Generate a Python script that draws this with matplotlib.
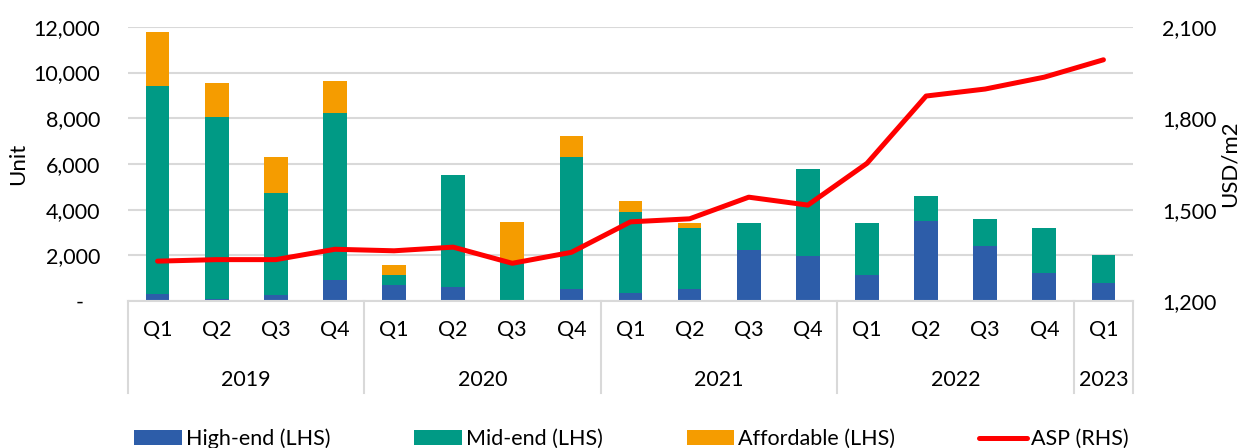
import numpy as np
import matplotlib
matplotlib.use("Agg")
import matplotlib.pyplot as plt
from matplotlib.ticker import FuncFormatter
import matplotlib.transforms as mtransforms

plt.rcParams['font.family'] = ['Lato', 'DejaVu Sans']

# ---- data ----
quarters = ["Q1", "Q2", "Q3", "Q4"] * 4 + ["Q1"]
years = ["2019", "2020", "2021", "2022", "2023"]
year_sizes = [4, 4, 4, 4, 1]

high_end = [300, 100, 250, 930, 720, 600, 0, 510, 370, 540, 2220, 1960, 1120, 3490, 2390, 1240, 800]
mid_end = [9130, 7950, 4470, 7290, 410, 4920, 1750, 5810, 3530, 2670, 1180, 3820, 2310, 1120, 1200, 1970, 1230]
affordable = [2340, 1490, 1590, 1415, 450, 0, 1710, 910, 480, 190, 0, 0, 0, 0, 0, 0, 0]
asp = [1331, 1336, 1336, 1370, 1365, 1377, 1324, 1360, 1460, 1470, 1541, 1515, 1652, 1873, 1896, 1935, 1992]

C_HIGH = "#2D5DA9"
C_MID = "#009A85"
C_AFF = "#F59C00"
C_ASP = "#FF0000"
GRID = "#D9D9D9"
FS = 15.5

fig = plt.figure(figsize=(12.43, 4.48), dpi=100)
ax = fig.add_axes([0.103, 0.328, 0.8085, 0.612])

x = np.arange(len(quarters))
he = np.array(high_end)
me = np.array(mid_end)
af = np.array(affordable)

b1 = ax.bar(x, he, width=0.4, color=C_HIGH, zorder=2)
b2 = ax.bar(x, me, width=0.4, bottom=he, color=C_MID, zorder=2)
b3 = ax.bar(x, af, width=0.4, bottom=he + me, color=C_AFF, zorder=2)

ax.set_xlim(-0.5, len(quarters) - 0.5)
ax.set_ylim(0, 12000)
ax.set_yticks(np.arange(0, 12001, 2000))
ax.yaxis.set_major_formatter(FuncFormatter(lambda v, p: "-   " if v == 0 else f"{v:,.0f}"))
ax.grid(axis="y", color=GRID, lw=1.5, zorder=0)
ax.tick_params(axis="y", length=0, pad=20, labelsize=FS)
ax.set_xticks([])
for s in ("left", "right", "top"):
    ax.spines[s].set_visible(False)
ax.spines["bottom"].set_color(GRID)
ax.spines["bottom"].set_linewidth(1.5)
ax.set_ylabel("Unit", fontsize=FS + 0.5, labelpad=4)

# two-level category axis
trans = mtransforms.blended_transform_factory(ax.transData, ax.transAxes)
for xi, q in zip(x, quarters):
    ax.text(xi, -0.105, q, transform=trans, ha="center", va="center", fontsize=FS)
start = 0
bounds = [-0.5]
for yr, n in zip(years, year_sizes):
    mid = start + (n - 1) / 2
    ax.text(mid, -0.288, yr, transform=trans, ha="center", va="center", fontsize=FS)
    start += n
    bounds.append(start - 0.5)
for bx in bounds:
    ax.plot([bx, bx], [0, -0.335], transform=trans, color=GRID, lw=1.5, clip_on=False)

# ASP on right axis
ax2 = ax.twinx()
ln, = ax2.plot(x, asp, color=C_ASP, lw=3.6, solid_capstyle="round", solid_joinstyle="round",
               zorder=3)
ax2.set_ylim(1200, 2100)
ax2.set_yticks([1200, 1500, 1800, 2100])
ax2.yaxis.set_major_formatter(FuncFormatter(lambda v, p: f"{v:,.0f}"))
ax2.tick_params(axis="y", length=0, pad=21, labelsize=FS)
for s in ("left", "right", "top", "bottom"):
    ax2.spines[s].set_visible(False)
ax2.set_ylabel("USD/m2", fontsize=FS + 0.5, labelpad=2)

fig.legend([b1, b2, b3, ln], ["High-end (LHS)", "Mid-end (LHS)", "Affordable (LHS)", "ASP (RHS)"],
           loc="center", bbox_to_anchor=(0.508, 0.02), ncol=4, frameon=False,
           fontsize=FS, handlelength=2.2, handleheight=0.7, columnspacing=3.9, handletextpad=0.2)

fig.savefig("out.png", dpi=100)
